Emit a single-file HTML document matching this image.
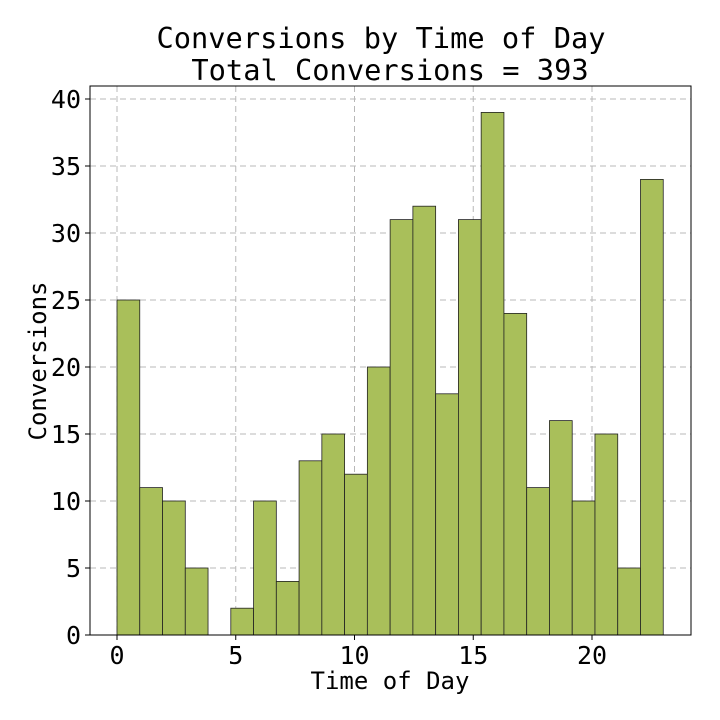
<!DOCTYPE html>
<html><head><meta charset="utf-8"><style>
body{margin:0;background:#fff;}
svg{display:block;font-family:"DejaVu Sans Mono","Liberation Mono",monospace;}
</style></head><body>
<svg id="chart" width="720" height="720">
<text x="381" y="48" text-anchor="middle" font-size="28.7">Conversions by Time of Day</text>
<text x="390" y="80" text-anchor="middle" font-size="28.7">Total Conversions = 393</text>
<g id="grid"></g><g id="bars"></g><g id="ticks"></g>
<rect x="90" y="86" width="601" height="549" fill="none" stroke="#000" stroke-width="1"/>
<text x="390" y="689" text-anchor="middle" font-size="24">Time of Day</text>
<text transform="translate(46,361) rotate(-90)" text-anchor="middle" font-size="24">Conversions</text>
</svg>
<script>
const counts=[25,11,10,5,0,2,10,4,13,15,12,20,31,32,18,31,39,24,11,16,10,15,5,34];
const xTicks=[0,5,10,15,20];
const yTicks=[0,5,10,15,20,25,30,35,40];
const binStart=0, binEnd=23;
const NS="http://www.w3.org/2000/svg";
const X=v=>117+v*23.75;
const Y=v=>635-v*(536/40);
const grid=document.getElementById('grid'),bars=document.getElementById('bars'),ticks=document.getElementById('ticks');
function mk(tag,attrs,parent){const e=document.createElementNS(NS,tag);for(const k in attrs)e.setAttribute(k,attrs[k]);parent.appendChild(e);return e;}
xTicks.forEach(t=>{
 const l=mk('line',{x1:X(t),x2:X(t),y1:86,y2:635,stroke:'#b8b8b8','stroke-dasharray':'6,4'},grid);
 
 
 const tk=mk('line',{x1:X(t),x2:X(t),y1:635,y2:640,stroke:'#000'},ticks);
 
 
 const tx=mk('text',{x:X(t),y:664,'text-anchor':'middle','font-size':'25'},ticks);
 tx.textContent=t;
 
 
});
yTicks.forEach(t=>{
 const l=mk('line',{x1:90,x2:691,y1:Y(t),y2:Y(t),stroke:'#b8b8b8','stroke-dasharray':'6,4'},grid);
 
 
 const tk=mk('line',{x1:85,x2:90,y1:Y(t),y2:Y(t),stroke:'#000'},ticks);
 
 
 const tx=mk('text',{x:81,y:Y(t)+9,'text-anchor':'end','font-size':'25'},ticks);
 tx.textContent=t;
 
 
});
const w=(binEnd-binStart)/counts.length;
counts.forEach((c,i)=>{
 if(c<=0)return;
 const x0=X(binStart+i*w),x1=X(binStart+(i+1)*w);
 const r=mk('rect',{x:x0,y:Y(c),width:x1-x0,height:Y(0)-Y(c),fill:'#a9bf5a',stroke:'#222','stroke-width':'0.8'},bars);
 
 
});
</script>
</body></html>
